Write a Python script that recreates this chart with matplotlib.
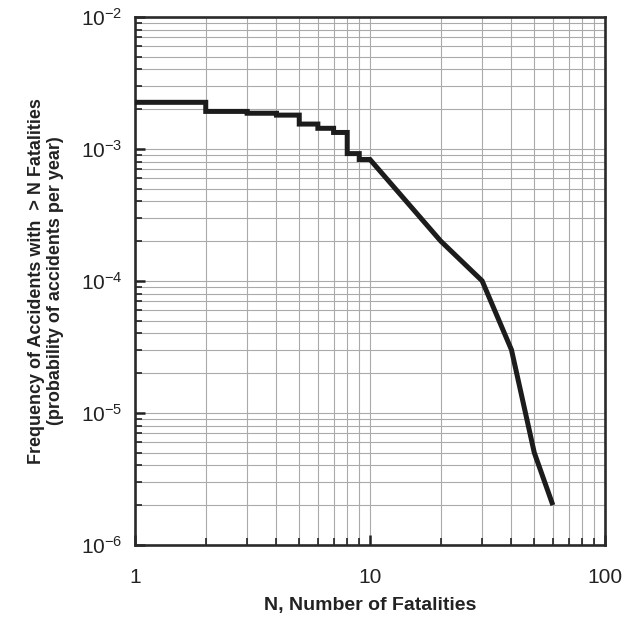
import matplotlib.pyplot as plt
import numpy as np
from matplotlib.ticker import FixedLocator, LogLocator, NullFormatter

# === Data ===

step_n = [1, 2, 3, 4, 5, 6, 7, 8, 9, 10]
step_freq = [2.25e-3, 1.92e-3, 1.86e-3, 1.80e-3, 1.54e-3, 1.43e-3, 1.33e-3, 9.2e-4, 8.3e-4, 8.3e-4]

tail_n = [20, 30, 40, 50, 60]
tail_freq = [2.0e-4, 1.0e-4, 3.0e-5, 5.0e-6, 2.0e-6]

x_ticks = [1, 10, 100]
x_labels = ['1', '10', '100']
y_ticks = [1e-6, 1e-5, 1e-4, 1e-3, 1e-2]
y_labels = [r'$\mathregular{10^{-6}}$', r'$\mathregular{10^{-5}}$', r'$\mathregular{10^{-4}}$',
            r'$\mathregular{10^{-3}}$', r'$\mathregular{10^{-2}}$']

plt.rcParams['font.family'] = ['Liberation Sans', 'DejaVu Sans']

# build the staircase vertices, then append the sloped tail
xs = np.concatenate([np.repeat(step_n, 2)[1:], tail_n])
ys = np.concatenate([np.repeat(step_freq, 2)[:-1], tail_freq])

fig = plt.figure(figsize=(6.25, 6.22), dpi=100)
ax = fig.add_axes([0.216, 0.124, 0.752, 0.849])

ax.plot(xs, ys, color='#1c1c1c', lw=3.6, solid_joinstyle='miter', solid_capstyle='butt', zorder=3)

ax.set_xscale('log')
ax.set_yscale('log')
ax.set_xlim(1, 100)
ax.set_ylim(1e-6, 1e-2)

ax.xaxis.set_major_locator(FixedLocator(x_ticks))
ax.set_xticklabels(x_labels)
ax.yaxis.set_major_locator(FixedLocator(y_ticks))
ax.set_yticklabels(y_labels)
ax.xaxis.set_minor_locator(LogLocator(base=10, subs=np.arange(2, 10)))
ax.yaxis.set_minor_locator(LogLocator(base=10, subs=np.arange(2, 10)))
ax.xaxis.set_minor_formatter(NullFormatter())
ax.yaxis.set_minor_formatter(NullFormatter())

ax.grid(True, which='both', color='#aaaaaa', lw=0.8, zorder=0)

ax.tick_params(which='both', direction='in', top=False, right=False,
               color='#222222', labelcolor='#222222')
ax.tick_params(which='major', length=7, width=1.8)
ax.tick_params(which='minor', length=5, width=1.2)
ax.tick_params(axis='x', which='major', labelsize=15, pad=17)
ax.tick_params(axis='y', which='major', labelsize=15, pad=9)

for sp in ax.spines.values():
    sp.set_linewidth(1.9)
    sp.set_color('#2a2a2a')

ax.set_xlabel('N, Number of Fatalities', fontsize=14, fontweight='bold', color='#222222', labelpad=7)
ax.set_ylabel('Frequency of Accidents with  > N Fatalities\n(probability of accidents per year)',
              fontsize=13, fontweight='bold', color='#222222', labelpad=12, linespacing=1.15)

fig.savefig('out.png', dpi=100)
